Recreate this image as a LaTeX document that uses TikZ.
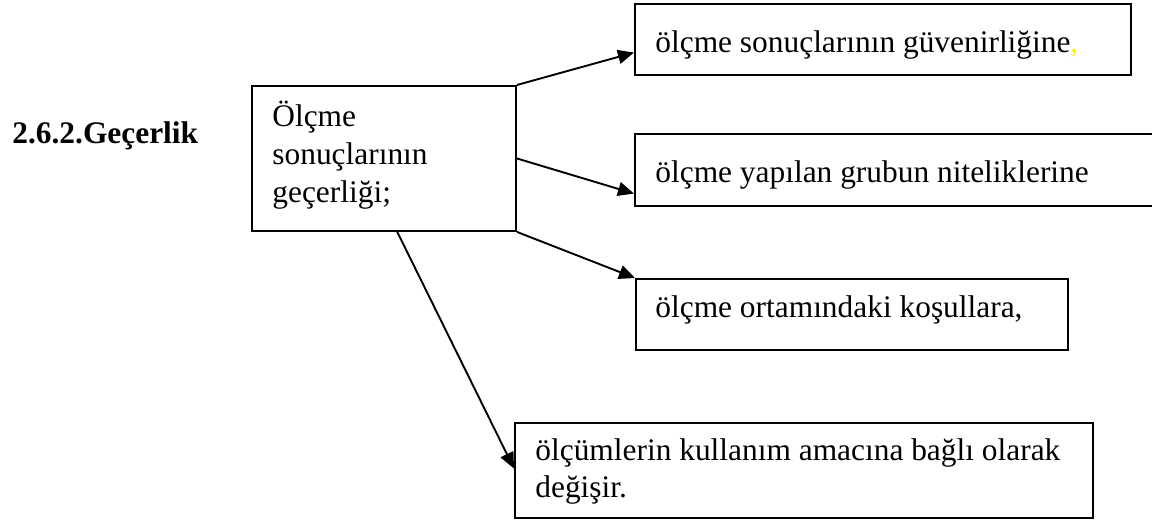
\documentclass[tikz,border=0pt]{standalone}
\usepackage{fontspec}
\setmainfont{Liberation Serif}
\usetikzlibrary{arrows.meta,calc}
\begin{document}
\begin{tikzpicture}[x=0.5pt,y=-0.5pt,
  box/.style={draw,line width=0.95pt,inner sep=0pt,anchor=north west},
  txt/.style={inner sep=0pt,anchor=base west,font=\fontsize{15.7}{19}\selectfont},
  arr/.style={line width=0.95pt,-{Triangle[length=8pt,width=7pt]}}]
\useasboundingbox (0,0) rectangle (1152,520);
\clip (0,0) rectangle (1152,520);
% boxes
\node[box,minimum width=132pt,minimum height=72.5pt] (c) at (251,85) {};
\node[box,minimum width=248pt,minimum height=35.5pt] (b1) at (634,3) {};
\node[box,minimum width=265pt,minimum height=36pt] (b2) at (634,133) {};
\node[box,minimum width=216pt,minimum height=35.5pt] (b3) at (635,278) {};
\node[box,minimum width=289pt,minimum height=47.5pt] (b4) at (514,422) {};
% texts
\node[txt,font=\fontsize{15.7}{19}\selectfont\bfseries] (title) at (12,143) {2.6.2.Geçerlik};
\node[txt] (c1) at (272,126) {Ölçme};
\node[txt] (c2) at (272,164) {sonuçlarının};
\node[txt] (c3) at (272,202) {geçerliği;};
\node[txt] (t1) at (655,52) {ölçme sonuçlarının güvenirliğine\textcolor{yellow}{,}};
\node[txt] (t2) at (655,182) {ölçme yapılan grubun niteliklerine};
\node[txt] (t3) at (655,317) {ölçme ortamındaki koşullara,};
\node[txt] (t4a) at (535,460) {ölçümlerin kullanım amacına bağlı olarak};
\node[txt] (t4b) at (535,497) {değişir.};
% arrows
\draw[arr] (c.north east) -- ($(b1.north west)!0.68!(b1.south west)$);
\draw[arr] (c.east) -- ($(b2.north west)!0.82!(b2.south west)$);
\draw[arr] (c.south east) -- (b3.north west);
\draw[arr] ($(c.south west)!0.55!(c.south east)$) -- ($(b4.north west)!0.48!(b4.south west)$);
\end{tikzpicture}
\end{document}
